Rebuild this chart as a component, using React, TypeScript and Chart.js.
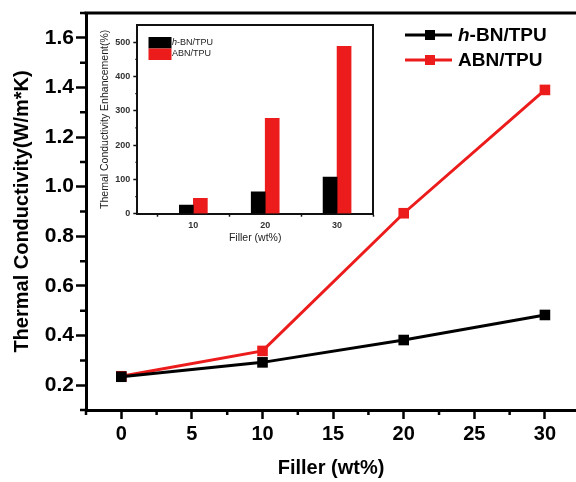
import React, { useEffect, useRef } from 'react';
import { Chart, registerables } from 'chart.js';

Chart.register(...registerables);

// ---------- Main chart data ----------
const fillerWt = [0, 10, 20, 30];
const hbnTpu = [0.234, 0.292, 0.382, 0.483];
const abnTpu = [0.236, 0.338, 0.893, 1.39];
const xTickValues = [0, 5, 10, 15, 20, 25, 30];
const xMinorTicks = [-2.5, 2.5, 7.5, 12.5, 17.5, 22.5, 27.5];
const yTickValues = [0.2, 0.4, 0.6, 0.8, 1.0, 1.2, 1.4, 1.6];
const yMinorTicks = [0.1, 0.3, 0.5, 0.7, 0.9, 1.1, 1.3, 1.5, 1.7];
const seriesNames = ['h-BN/TPU', 'ABN/TPU'];

// ---------- Inset data ----------
const insetCategories = [10, 20, 30];
const insetHbn = [25, 64, 107];
const insetAbn = [45, 278, 488];
const insetYTicks = [0, 100, 200, 300, 400, 500];
const insetYMinorTicks = [50, 150, 250, 350, 450];

const FONT = '"Liberation Sans", Arial, sans-serif';
const RED = '#ec1c1c';
const BLACK = '#000000';

function drawLegendLabel(ctx: CanvasRenderingContext2D, name: string, x: number, y: number, size: number, weight: string) {
  ctx.textBaseline = 'middle';
  ctx.textAlign = 'left';
  if (name.startsWith('h-')) {
    ctx.font = `italic ${weight} ${size}px ${FONT}`;
    ctx.fillText('h', x, y);
    const w = ctx.measureText('h').width;
    ctx.font = `${weight} ${size}px ${FONT}`;
    ctx.fillText(name.slice(1), x + w, y);
  } else {
    ctx.font = `${weight} ${size}px ${FONT}`;
    ctx.fillText(name, x, y);
  }
}

const mainDecor = {
  id: 'mainDecor',
  afterDraw(chart: any) {
    const { ctx, chartArea } = chart;
    const xs = chart.scales.x;
    const ys = chart.scales.y;
    ctx.save();
    ctx.strokeStyle = '#000';
    ctx.lineWidth = 2.5;
    ctx.beginPath();
    xMinorTicks.forEach((v) => {
      const px = xs.getPixelForValue(v);
      ctx.moveTo(px, chartArea.bottom);
      ctx.lineTo(px, chartArea.bottom + 5);
    });
    yMinorTicks.forEach((v) => {
      const py = ys.getPixelForValue(v);
      ctx.moveTo(chartArea.left - 6, py);
      ctx.lineTo(chartArea.left, py);
    });
    ctx.stroke();
    // top frame line
    ctx.lineWidth = 3;
    ctx.beginPath();
    ctx.moveTo(chartArea.left - 1.5, chartArea.top);
    ctx.lineTo(chartArea.right, chartArea.top);
    ctx.stroke();

    // legend
    const rows = [
      { name: seriesNames[0], color: BLACK, y: 35 },
      { name: seriesNames[1], color: RED, y: 60 },
    ];
    rows.forEach((r) => {
      ctx.strokeStyle = r.color;
      ctx.fillStyle = r.color;
      ctx.lineWidth = 3;
      ctx.beginPath();
      ctx.moveTo(405, r.y);
      ctx.lineTo(452, r.y);
      ctx.stroke();
      ctx.fillRect(425, r.y - 5, 10, 10);
      ctx.fillStyle = '#000';
      drawLegendLabel(ctx, r.name, 458, r.y + 1, 19, 'bold');
    });
    ctx.restore();
  },
};

const insetDecor = {
  id: 'insetDecor',
  afterDraw(chart: any) {
    const { ctx, chartArea } = chart;
    const ys = chart.scales.y;
    ctx.save();
    ctx.strokeStyle = '#111';
    ctx.lineWidth = 2;
    ctx.beginPath();
    ctx.moveTo(chartArea.left, chartArea.top);
    ctx.lineTo(chartArea.right, chartArea.top);
    ctx.lineTo(chartArea.right, chartArea.bottom);
    ctx.stroke();
    ctx.lineWidth = 1.2;
    ctx.beginPath();
    insetYMinorTicks.forEach((v) => {
      const py = ys.getPixelForValue(v);
      ctx.moveTo(chartArea.left - 2, py);
      ctx.lineTo(chartArea.left, py);
    });
    ctx.stroke();
    // legend
    const rows = [
      { name: seriesNames[0], color: BLACK, y: 24 },
      { name: seriesNames[1], color: RED, y: 35.5 },
    ];
    rows.forEach((r) => {
      ctx.fillStyle = r.color;
      ctx.fillRect(68.5, r.y, 23, 11.5);
      ctx.fillStyle = '#222';
      drawLegendLabel(ctx, r.name, 92, r.y + 5.5, 9, 'normal');
    });
    ctx.restore();
  },
};

export default function App() {
  const mainRef = useRef<HTMLCanvasElement>(null);
  const insetRef = useRef<HTMLCanvasElement>(null);

  useEffect(() => {
    const tickFont = { family: FONT, size: 20, weight: 'bold' as const };
    const main = new Chart(mainRef.current!, {
      type: 'line',
      data: {
        datasets: [
          {
            label: seriesNames[0],
            data: fillerWt.map((x, i) => ({ x, y: hbnTpu[i] })),
            borderColor: BLACK,
            backgroundColor: BLACK,
            borderWidth: 3,
            pointStyle: 'rect',
            pointRadius: 7.5,
            pointBorderWidth: 0,
          },
          {
            label: seriesNames[1],
            data: fillerWt.map((x, i) => ({ x, y: abnTpu[i] })),
            borderColor: RED,
            backgroundColor: RED,
            borderWidth: 3,
            pointStyle: 'rect',
            pointRadius: 7.5,
            pointBorderWidth: 0,
          },
        ],
      },
      options: {
        animation: false,
        responsive: false,
        maintainAspectRatio: false,
        layout: { autoPadding: false, padding: { top: 13, right: 0, left: 0, bottom: 0 } },
        plugins: { legend: { display: false }, tooltip: { enabled: false } },
        scales: {
          x: {
            type: 'linear',
            min: -2.5,
            max: 32.2,
            afterBuildTicks: (s: any) => {
              s.ticks = xTickValues.map((v) => ({ value: v }));
            },
            afterFit: (s: any) => {
              s.height = 72;
              s.paddingLeft = 0;
              s.paddingRight = 0;
            },
            grid: { display: true, drawOnChartArea: false, drawTicks: true, tickLength: 9, tickWidth: 2.5, color: '#000' },
            border: { display: true, color: '#000', width: 3 },
            ticks: {
              font: tickFont,
              color: '#000',
              padding: 3,
              maxRotation: 0,
              autoSkip: false,
              callback: (v: any) => String(v),
            },
            title: {
              display: true,
              text: 'Filler (wt%)',
              font: { family: FONT, size: 20, weight: 'bold' },
              color: '#000',
              padding: { top: 0, bottom: 2 },
            },
          },
          y: {
            type: 'linear',
            min: 0.1,
            max: 1.7,
            afterBuildTicks: (s: any) => {
              s.ticks = yTickValues.map((v) => ({ value: v }));
            },
            afterFit: (s: any) => {
              s.width = 86;
              s.paddingTop = 0;
              s.paddingBottom = 0;
            },
            grid: { display: true, drawOnChartArea: false, drawTicks: true, tickLength: 10, tickWidth: 2.5, color: '#000' },
            border: { display: true, color: '#000', width: 3 },
            ticks: {
              font: { family: FONT, size: 21, weight: 'bold' },
              color: '#000',
              padding: 2,
              autoSkip: false,
              callback: (v: any) => Number(v).toFixed(1),
            },
            title: {
              display: true,
              text: 'Thermal Conductivity(W/m*K)',
              font: { family: FONT, size: 20, weight: 'bold' },
              color: '#000',
              padding: { top: 10, bottom: 0 },
            },
          },
        },
      },
      plugins: [mainDecor],
    } as any);

    const insetTickFont = { family: FONT, size: 9, weight: 'bold' as const };
    const inset = new Chart(insetRef.current!, {
      type: 'bar',
      data: {
        datasets: [
          {
            label: seriesNames[0],
            data: insetCategories.map((x, i) => ({ x, y: insetHbn[i] })),
            backgroundColor: BLACK,
            borderWidth: 0,
            barThickness: 14,
          },
          {
            label: seriesNames[1],
            data: insetCategories.map((x, i) => ({ x, y: insetAbn[i] })),
            backgroundColor: RED,
            borderWidth: 0,
            barThickness: 14,
          },
        ],
      },
      options: {
        animation: false,
        responsive: false,
        maintainAspectRatio: false,
        layout: { autoPadding: false, padding: { top: 12, right: 7, left: 0, bottom: 0 } },
        plugins: { legend: { display: false }, tooltip: { enabled: false } },
        scales: {
          x: {
            type: 'linear',
            min: 2.2,
            max: 35,
            offset: false,
            afterBuildTicks: (s: any) => {
              s.ticks = insetCategories.map((v) => ({ value: v }));
            },
            afterFit: (s: any) => {
              s.height = 39.3;
              s.paddingLeft = 0;
              s.paddingRight = 0;
            },
            grid: { display: true, drawOnChartArea: false, drawTicks: true, tickLength: 3, tickWidth: 1.5, color: '#111' },
            border: { display: true, color: '#111', width: 2 },
            ticks: { font: insetTickFont, color: '#333', padding: 3, maxRotation: 0, autoSkip: false, callback: (v: any) => String(v) },
            title: {
              display: true,
              text: 'Filler (wt%)',
              font: { family: FONT, size: 10.5, weight: 'normal' },
              color: '#222',
              padding: { top: 0, bottom: 8.7 },
            },
          },
          y: {
            type: 'linear',
            min: 0,
            max: 550,
            afterBuildTicks: (s: any) => {
              s.ticks = insetYTicks.map((v) => ({ value: v }));
            },
            afterFit: (s: any) => {
              s.width = 57.3;
              s.paddingTop = 0;
              s.paddingBottom = 0;
            },
            grid: { display: true, drawOnChartArea: false, drawTicks: true, tickLength: 4, tickWidth: 1.5, color: '#111' },
            border: { display: true, color: '#111', width: 2 },
            ticks: { font: insetTickFont, color: '#333', padding: 3, autoSkip: false, callback: (v: any) => String(v) },
            title: {
              display: true,
              text: 'Themal Conductivity Enhancement(%)',
              font: { family: FONT, size: 10.5, weight: 'normal' },
              color: '#222',
              padding: { top: 18.7, bottom: 0 },
            },
          },
        },
      },
      plugins: [insetDecor],
    } as any);

    return () => {
      main.destroy();
      inset.destroy();
    };
  }, []);

  return (
    <div style={{ position: 'absolute', left: 0, top: 0, width: 576, height: 482, background: '#fff' }}>
      <canvas ref={mainRef} width={576} height={482} style={{ position: 'absolute', left: 0, top: 0, width: 576, height: 482 }} />
      <canvas ref={insetRef} width={300} height={240} style={{ position: 'absolute', left: 80, top: 13, width: 300, height: 240 }} />
    </div>
  );
}
